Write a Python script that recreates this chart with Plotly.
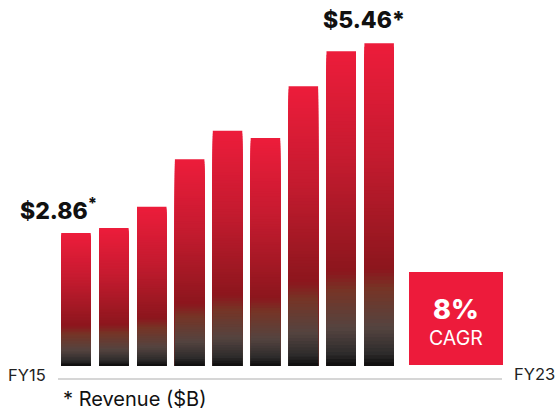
import plotly.graph_objects as go

# ---- data ----
years = ["FY15", "FY16", "FY17", "FY18", "FY19", "FY20", "FY21", "FY22", "FY23"]
revenue = [2.86, 2.93, 3.22, 3.87, 4.26, 4.16, 4.87, 5.35, 5.46]
first_label = "$2.86<sup>*</sup>"
last_label = "$5.46*"
cagr_text = "8%"
cagr_sub = "CAGR"
footnote = "* Revenue ($B)"

# ---- layout constants ----
W, H = 556, 412
ML, MR, MT, MB = 57, 54, 30, 46
PW, PH = W - ML - MR, H - MT - MB
AXIS_MIN = 1.04
AXIS_MAX = 5.64
PITCH = 37.9
XMAX = -0.5 + PW / PITCH

def px(x):
    return (x - ML) / PW

def py(y):
    return (H - MB - y) / PH

# vertical gradient, 0 = top of bar, 1 = bottom
stops = [
    (0.00, (237, 28, 59)),
    (0.35, (196, 27, 47)),
    (0.70, (140, 22, 29)),
    (0.76, (118, 52, 38)),
    (0.88, (85, 68, 64)),
    (0.96, (46, 44, 44)),
    (1.00, (12, 12, 12)),
]

def color_at(t):
    for (t0, c0), (t1, c1) in zip(stops[:-1], stops[1:]):
        if t0 <= t <= t1:
            f = (t - t0) / (t1 - t0) if t1 > t0 else 0
            c = [round(a + (b - a) * f) for a, b in zip(c0, c1)]
            return "rgb(%d,%d,%d)" % tuple(c)
    return "rgb(12,12,12)"

N = 90
fig = go.Figure()
xs = list(range(len(years)))
# draw tallest (top colour) first, then progressively shorter bars on top
for k in range(N, 0, -1):
    frac = k / N
    t = 1 - (k - 0.5) / N
    heights = [(v - AXIS_MIN) * frac for v in revenue]
    fig.add_trace(go.Bar(
        x=xs, y=heights, base=AXIS_MIN,
        width=29.5 / PITCH,
        marker=dict(color=color_at(t), line=dict(width=0)),
        hoverinfo="skip", showlegend=False,
    ))

fig.update_layout(
    width=W, height=H,
    margin=dict(l=ML, r=MR, t=MT, b=MB),
    paper_bgcolor="white", plot_bgcolor="white",
    barmode="overlay",
    xaxis=dict(range=[-0.5, XMAX], visible=False, fixedrange=True),
    yaxis=dict(range=[AXIS_MIN, AXIS_MAX], visible=False, fixedrange=True),
    font=dict(family="Inter", color="#111111"),
)

# baseline
fig.add_shape(type="line", xref="paper", yref="paper",
              x0=px(58), x1=px(502), y0=py(379), y1=py(379),
              line=dict(color="#c9c9c9", width=1.5))
# CAGR box
fig.add_shape(type="rect", xref="paper", yref="paper",
              x0=px(409), x1=px(503), y0=py(365), y1=py(272),
              fillcolor="#ed1b3b", line=dict(width=0), layer="above")

ann = [
    dict(x=0, y=revenue[0], xref="x", yref="y", text=first_label,
         xshift=-17, yshift=24, yanchor="middle", xanchor="center",
         font=dict(size=23, family="Inter", weight=800, color="#111111")),
    dict(x=8, y=revenue[-1], xref="x", yref="y", text=last_label,
         xshift=-15, yshift=23, yanchor="middle", xanchor="center",
         font=dict(size=23, family="Inter", weight=800, color="#111111")),
    dict(x=px(456), y=py(309), xref="paper", yref="paper", text=cagr_text,
         xanchor="center", yanchor="middle",
         font=dict(size=27, family="Inter", weight=800, color="white")),
    dict(x=px(456), y=py(338), xref="paper", yref="paper", text=cagr_sub,
         xanchor="center", yanchor="middle",
         font=dict(size=19.5, family="Inter", color="white")),
    dict(x=px(6), y=py(375), xref="paper", yref="paper", text=years[0],
         xanchor="left", yanchor="middle",
         font=dict(size=16.5, family="Inter", color="#222222")),
    dict(x=px(512), y=py(374), xref="paper", yref="paper", text=years[-1],
         xanchor="left", yanchor="middle",
         font=dict(size=16.5, family="Inter", color="#222222")),
    dict(x=px(61), y=py(399), xref="paper", yref="paper", text=footnote,
         xanchor="left", yanchor="middle",
         font=dict(size=20, family="Inter", color="#111111")),
]
for a in ann:
    fig.add_annotation(showarrow=False, **a)

fig.write_html(
    "out.html",
    config={"displayModeBar": False},
    post_script="document.body.style.margin='0';document.body.style.overflow='hidden';",
)
